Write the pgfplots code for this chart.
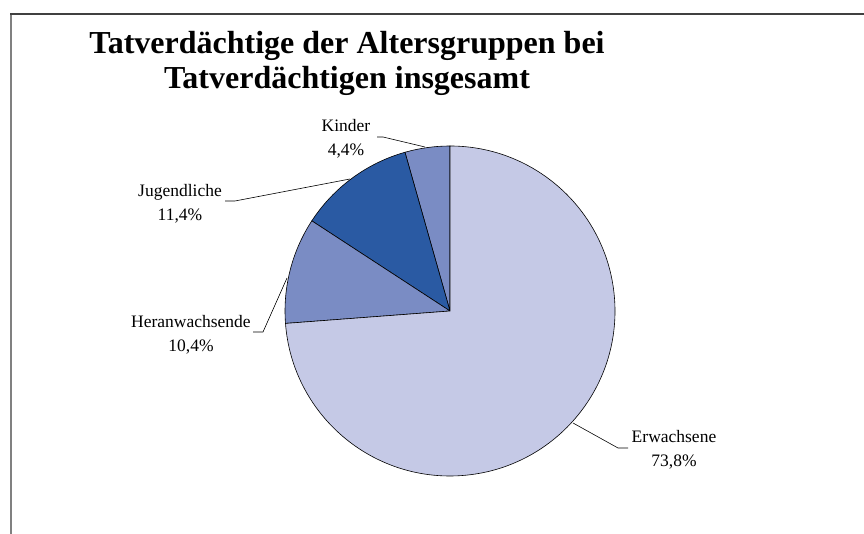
\documentclass[border=0pt]{standalone}
\usepackage{fontspec}
\setmainfont{Liberation Serif}
\usepackage{pgfplots}
\usepackage{pgfplotstable}
\pgfplotsset{compat=1.18}
\definecolor{cErw}{HTML}{C5C9E6}
\definecolor{cHer}{HTML}{7A8CC4}
\definecolor{cJug}{HTML}{2A5AA3}
\definecolor{cKin}{HTML}{7A8CC4}
\definecolor{frameL}{HTML}{808080}
\definecolor{frameT}{HTML}{404040}
\pgfplotstableread{
group share
Kinder 4.4
Jugendliche 11.4
Heranwachsende 10.4
Erwachsene 73.8
}\piedata
\pgfplotstablegetelem{0}{share}\of\piedata \let\sK\pgfplotsretval
\pgfplotstablegetelem{1}{share}\of\piedata \let\sJ\pgfplotsretval
\pgfplotstablegetelem{2}{share}\of\piedata \let\sH\pgfplotsretval
\pgfplotstablegetelem{3}{share}\of\piedata \let\sE\pgfplotsretval
\pgfmathsetmacro\aK{90+3.6*\sK}
\pgfmathsetmacro\aJ{\aK+3.6*\sJ}
\pgfmathsetmacro\aH{\aJ+3.6*\sH}
\pgfmathsetmacro\aE{\aH+3.6*\sE}
\begin{document}
\begin{tikzpicture}
\begin{axis}[
  at={(0,0)}, anchor=south west,
  scale only axis, width=864pt, height=534pt,
  xmin=0, xmax=864, ymin=0, ymax=534,
  hide axis, clip=false]
% frame
\draw[frameL, line width=1.5pt] (axis cs:11,0) -- (axis cs:11,520);
\draw[frameT, line width=1.5pt] (axis cs:10.25,520) -- (axis cs:864,520);
% slices
\def\cx{450}\def\cy{223}\def\R{165pt}
\filldraw[fill=cKin, draw=black, line width=0.6pt] (axis cs:\cx,\cy) -- ++(90:\R) arc[start angle=90, end angle=\aK, radius=\R] -- cycle;
\filldraw[fill=cJug, draw=black, line width=0.6pt] (axis cs:\cx,\cy) -- ++(\aK:\R) arc[start angle=\aK, end angle=\aJ, radius=\R] -- cycle;
\filldraw[fill=cHer, draw=black, line width=0.6pt] (axis cs:\cx,\cy) -- ++(\aJ:\R) arc[start angle=\aJ, end angle=\aH, radius=\R] -- cycle;
\filldraw[fill=cErw, draw=black, line width=0.6pt] (axis cs:\cx,\cy) -- ++(\aH:\R) arc[start angle=\aH, end angle=\aE, radius=\R] -- cycle;
% leader lines
\draw[black, line width=0.6pt] (axis cs:377,397) -- (axis cs:383,397) -- (axis cs:425,387);
\draw[black, line width=0.6pt] (axis cs:225,333) -- (axis cs:235,333) -- (axis cs:350,355);
\draw[black, line width=0.6pt] (axis cs:253,202) -- (axis cs:263,202) -- (axis cs:287,256);
\draw[black, line width=0.6pt] (axis cs:573,111) -- (axis cs:618,86) -- (axis cs:628,86);
% labels
\tikzset{lab/.style={align=center, inner sep=0pt, font=\fontsize{17.5}{24}\selectfont}}
\node[lab] at (axis cs:346,395) {Kinder\\4,4\%};
\node[lab] at (axis cs:180,330.5) {Jugendliche\\11,4\%};
\node[lab] at (axis cs:191,199) {Heranwachsende\\10,4\%};
\node[lab] at (axis cs:674,84) {Erwachsene\\73,8\%};
% title
\node[align=center, inner sep=0pt, font=\fontsize{32}{35}\bfseries\selectfont] at (axis cs:347,471) {Tatverdächtige der Altersgruppen bei\\Tatverdächtigen insgesamt};
\end{axis}
\pgfresetboundingbox
\path[use as bounding box] (0,0) rectangle (864pt,534pt);
\end{tikzpicture}
\end{document}
